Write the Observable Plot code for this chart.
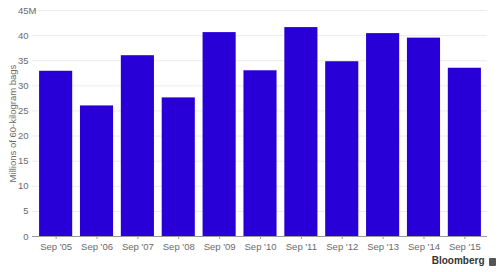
<!DOCTYPE html>
<html>
<head>
<meta charset="utf-8">
<script src="https://cdn.jsdelivr.net/npm/d3@7"></script>
<script src="https://cdn.jsdelivr.net/npm/@observablehq/plot@0.6"></script>
<style>
  html, body { margin: 0; padding: 0; background: #fff; }
  #chart { width: 500px; height: 272px; }
</style>
</head>
<body>
<div id="chart"></div>
<script>
const seasons = ["Sep '05", "Sep '06", "Sep '07", "Sep '08", "Sep '09", "Sep '10", "Sep '11", "Sep '12", "Sep '13", "Sep '14", "Sep '15"];
const bags = [32.9, 26.0, 36.0, 27.6, 40.6, 33.0, 41.6, 34.8, 40.4, 39.5, 33.5];
const yTicks = [0, 5, 10, 15, 20, 25, 30, 35, 40, 45];

const data = seasons.map((s, i) => ({season: s, value: bags[i]}));
const font = "Helvetica, Arial, 'Liberation Sans', sans-serif";

const chart = Plot.plot({
  width: 500,
  height: 272,
  marginTop: 10,
  marginLeft: 35,
  marginRight: 15,
  marginBottom: 36,
  style: {fontFamily: font, fontSize: "9.5px", color: "#666", background: "#fff"},
  x: {domain: seasons, paddingInner: 0.19, paddingOuter: 0.1, round: false, label: null},
  y: {domain: [0, 45], label: null},
  marks: [
    Plot.gridY(yTicks.filter(d => d > 0), {stroke: "#ececec", strokeOpacity: 1, insetLeft: -3, insetRight: -2}),
    Plot.barY(data, {x: "season", y: "value", fill: "#2800d7"}),
    Plot.ruleY([0], {stroke: "#9a9a9a", strokeWidth: 1, insetLeft: -3, insetRight: -2}),
    Plot.axisY({ticks: yTicks, tickSize: 0, tickPadding: 7, tickFormat: d => String(d), fill: "#6a6a6a", fontSize: 9.5}),
    Plot.text([45], {y: d => d, frameAnchor: "left", dx: -7, textAnchor: "start", text: () => "M", fill: "#6a6a6a", fontSize: 9.5}),
    Plot.axisX({tickSize: 3, tickPadding: 4, stroke: "#9a9a9a", fill: "#6a6a6a", fontSize: 9.5}),
    Plot.text(["Millions of 60-kilogram bags"], {frameAnchor: "left", dx: -23, rotate: -90, textAnchor: "middle", text: d => d, fill: "#6a6a6a", fontSize: 9.5}),
    Plot.text(["Bloomberg"], {frameAnchor: "bottom-right", dx: -1, dy: 27, textAnchor: "end", text: d => d, fill: "#333", fontWeight: "bold", fontSize: 10})
  ]
});
document.getElementById("chart").appendChild(chart);

// small logo mark next to the wordmark
const svg = d3.select(chart);
svg.append("rect").attr("x", 489).attr("y", 258).attr("width", 7).attr("height", 8).attr("rx", 1).attr("fill", "#555");
</script>
</body>
</html>
